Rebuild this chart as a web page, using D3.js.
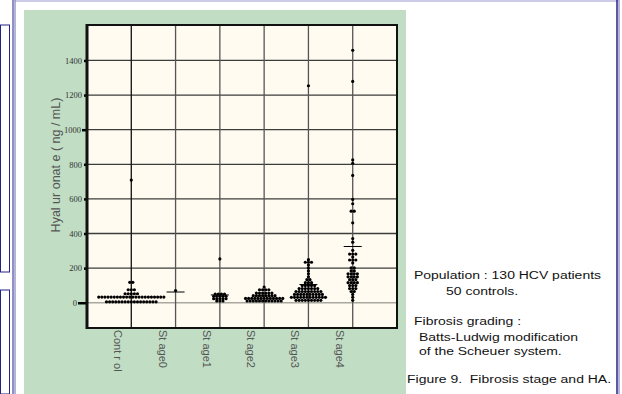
<!DOCTYPE html>
<html>
<head>
<meta charset="utf-8">
<script src="https://cdn.jsdelivr.net/npm/d3@7"></script>
<style>
  body { margin: 0; background: #fff; }
  svg { display: block; }
</style>
</head>
<body>
<svg id="chart" width="622" height="394"></svg>
<script>
// categories and tick labels
const categories = ['Control', 'Stage0', 'Stage1', 'Stage2', 'Stage3', 'Stage4'];
const categoryLabels = ['Cont r ol', 'St age0', 'St age1', 'St age2', 'St age3', 'St age4'];
const yTicks = [0, 200, 400, 600, 800, 1000, 1200, 1400];

// dot rows per group: value level (ng/mL) and how many dots sit on it
const controlLevels = [709, 118, 75, 52, 33, 5];
const controlCounts = [1, 2, 3, 5, 22, 17];
const stage0Levels = [70];
const stage0Counts = [1];
const stage1Levels = [253, 50, 37, 23, 10];
const stage1Counts = [1, 4, 5, 5, 3];
const stage2Levels = [91, 75, 56, 41, 25, 10];
const stage2Counts = [1, 4, 6, 8, 13, 12];
const stage3Levels = [1254, 249, 234, 218, 201, 184, 167, 150, 133, 116, 99, 82, 65, 48, 31, 14];
const stage3Counts = [1, 1, 3, 1, 1, 1, 1, 1, 2, 3, 5, 7, 9, 10, 12, 9];
const stage4Levels = [1459, 1279, 825, 806, 736, 597, 572, 529, 462, 371, 350, 303, 281, 264, 247, 230, 201, 184, 167, 150, 133, 116, 99, 82, 65, 48, 31, 14];
const stage4Counts = [1, 1, 1, 1, 1, 1, 1, 2, 1, 1, 1, 1, 3, 1, 3, 1, 2, 2, 4, 4, 3, 4, 3, 3, 2, 1, 1, 1];
// horizontal bars (group medians), null where none is visible
const medians = [null, 62, 45, null, 105, 325];

const groups = [
    [controlLevels, controlCounts],
    [stage0Levels, stage0Counts],
    [stage1Levels, stage1Counts],
    [stage2Levels, stage2Counts],
    [stage3Levels, stage3Counts],
    [stage4Levels, stage4Counts],
];

const svg = d3.select('#chart');

// page decoration
svg.append('rect').attr('x', 0).attr('y', 0).attr('width', 622).attr('height', 394).attr('fill', '#fff');
svg.append('line').attr('x1', 15).attr('x2', 618).attr('y1', 1).attr('y2', 1)
    .attr('stroke', '#ccccea').attr('stroke-width', 2);
[[0.5, 25, 272], [0.5, 290, 394]].forEach(([x, y0, y1]) => {
    svg.append('rect').attr('x', x).attr('y', y0).attr('width', 9).attr('height', y1 - y0)
        .attr('fill', 'none').attr('stroke', '#22228a').attr('stroke-width', 1);
});
svg.append('line').attr('x1', 13).attr('x2', 13).attr('y1', 0).attr('y2', 394).attr('stroke', '#22228a').attr('stroke-width', 1);
svg.append('line').attr('x1', 15).attr('x2', 15).attr('y1', 0).attr('y2', 394).attr('stroke', '#6a6ab8').attr('stroke-width', 1);
svg.append('line').attr('x1', 617).attr('x2', 617).attr('y1', 0).attr('y2', 394).attr('stroke', '#22228a').attr('stroke-width', 1.5);
svg.append('line').attr('x1', 619).attr('x2', 619).attr('y1', 0).attr('y2', 394).attr('stroke', '#6a6ab8').attr('stroke-width', 1);

// green panel
svg.append('rect').attr('x', 24).attr('y', 10).attr('width', 382).attr('height', 384).attr('fill', '#c1dec5');

const plot = { left: 87, top: 25, right: 397, bottom: 328 };

const x = d3.scalePoint().domain(categories).range([plot.left, plot.right]).padding(1);
const y = d3.scaleLinear().domain([-146, 1605]).range([plot.bottom, plot.top]);

svg.append('rect').attr('x', plot.left).attr('y', plot.top)
    .attr('width', plot.right - plot.left).attr('height', plot.bottom - plot.top)
    .attr('fill', '#fffbf0');

// grid
const grid = svg.append('g');
grid.selectAll('line.h').data(yTicks).enter().append('line')
    .attr('x1', plot.left).attr('x2', plot.right)
    .attr('y1', d => y(d)).attr('y2', d => y(d))
    .attr('stroke', d => d === 0 ? '#a8a8a0' : '#3c3c3c')
    .attr('stroke-width', 1.3);
grid.selectAll('line.v').data(categories).enter().append('line')
    .attr('x1', d => x(d)).attr('x2', d => x(d))
    .attr('y1', plot.top).attr('y2', plot.bottom)
    .attr('stroke', (d, i) => i === 0 ? '#111' : '#555')
    .attr('stroke-width', 1.3);

// y axis
const yAxis = d3.axisLeft(y).tickValues(yTicks).tickFormat(d3.format('d')).tickSize(3).tickPadding(3);
const yAxisG = svg.append('g').attr('transform', `translate(${plot.left},0)`).call(yAxis);
yAxisG.select('.domain').remove();
yAxisG.selectAll('.tick line')
    .attr('stroke', '#000').attr('stroke-width', 2.5)
    .attr('x2', d => d === 0 ? -9 : d === 1000 ? -5 : -3);
yAxisG.selectAll('.tick text')
    .attr('x', d => d === 0 ? -10 : d === 1000 ? -6 : -5)
    .attr('fill', '#333')
    .style('font-family', '"Liberation Serif", "Times New Roman", serif')
    .style('font-size', '8.5px');

// frame
svg.append('rect').attr('x', plot.left).attr('y', plot.top)
    .attr('width', plot.right - plot.left).attr('height', plot.bottom - plot.top)
    .attr('fill', 'none').attr('stroke', '#111').attr('stroke-width', 2);
svg.append('line').attr('x1', plot.left).attr('x2', plot.left)
    .attr('y1', plot.top - 1).attr('y2', plot.bottom + 1)
    .attr('stroke', '#111').attr('stroke-width', 3);

// dots
const step = 3.1;
const dots = [];
groups.forEach(([levels, counts], gi) => {
    levels.forEach((v, li) => {
        const n = counts[li];
        for (let k = 0; k < n; k++) {
            dots.push({ cat: categories[gi], value: v, offset: (k - (n - 1) / 2) * step });
        }
    });
});
svg.append('g').selectAll('circle').data(dots).enter().append('circle')
    .attr('cx', d => x(d.cat) + d.offset)
    .attr('cy', d => y(d.value))
    .attr('r', 1.6)
    .attr('fill', '#000');

// median bars
svg.append('g').selectAll('line')
    .data(medians.map((m, i) => ({ cat: categories[i], value: m })).filter(d => d.value !== null))
    .enter().append('line')
    .attr('x1', d => x(d.cat) - 9).attr('x2', d => x(d.cat) + 9)
    .attr('y1', d => y(d.value)).attr('y2', d => y(d.value))
    .attr('stroke', '#000').attr('stroke-width', 1);

// category labels
svg.append('g').selectAll('text').data(categories).enter().append('text')
    .attr('transform', d => `translate(${x(d) - 17},${plot.bottom + 2}) rotate(90)`)
    .attr('fill', '#555')
    .style('font-family', '"Liberation Sans", Arial, sans-serif')
    .style('font-size', '11px')
    .text((d, i) => categoryLabels[i]);

// y title
svg.append('text')
    .attr('transform', `translate(60,165) rotate(-90)`)
    .attr('text-anchor', 'middle')
    .attr('fill', '#555')
    .style('font-family', '"Liberation Sans", Arial, sans-serif')
    .style('font-size', '12.5px')
    .text('Hyal ur onat e ( ng / mL)');

// notes (the original lettering is wide, so it is stretched horizontally)
const notes = [
    ['Population : 130 HCV patients', 414, 279],
    ['50 controls.', 446, 295],
    ['Fibrosis grading :', 414, 325],
    ['Batts-Ludwig modification', 419, 340.5],
    ['of the Scheuer system.', 419, 355],
    ['Figure 9.  Fibrosis stage and HA.', 407, 382.5],
];
svg.append('g').selectAll('text').data(notes).enter().append('text')
    .attr('transform', d => `translate(${d[1]},${d[2]}) scale(1.27,1)`)
    .attr('fill', '#111')
    .style('font-family', '"Liberation Sans", Arial, sans-serif')
    .style('font-size', '11px')
    .style('white-space', 'pre')
    .text(d => d[0]);
</script>
</body>
</html>
